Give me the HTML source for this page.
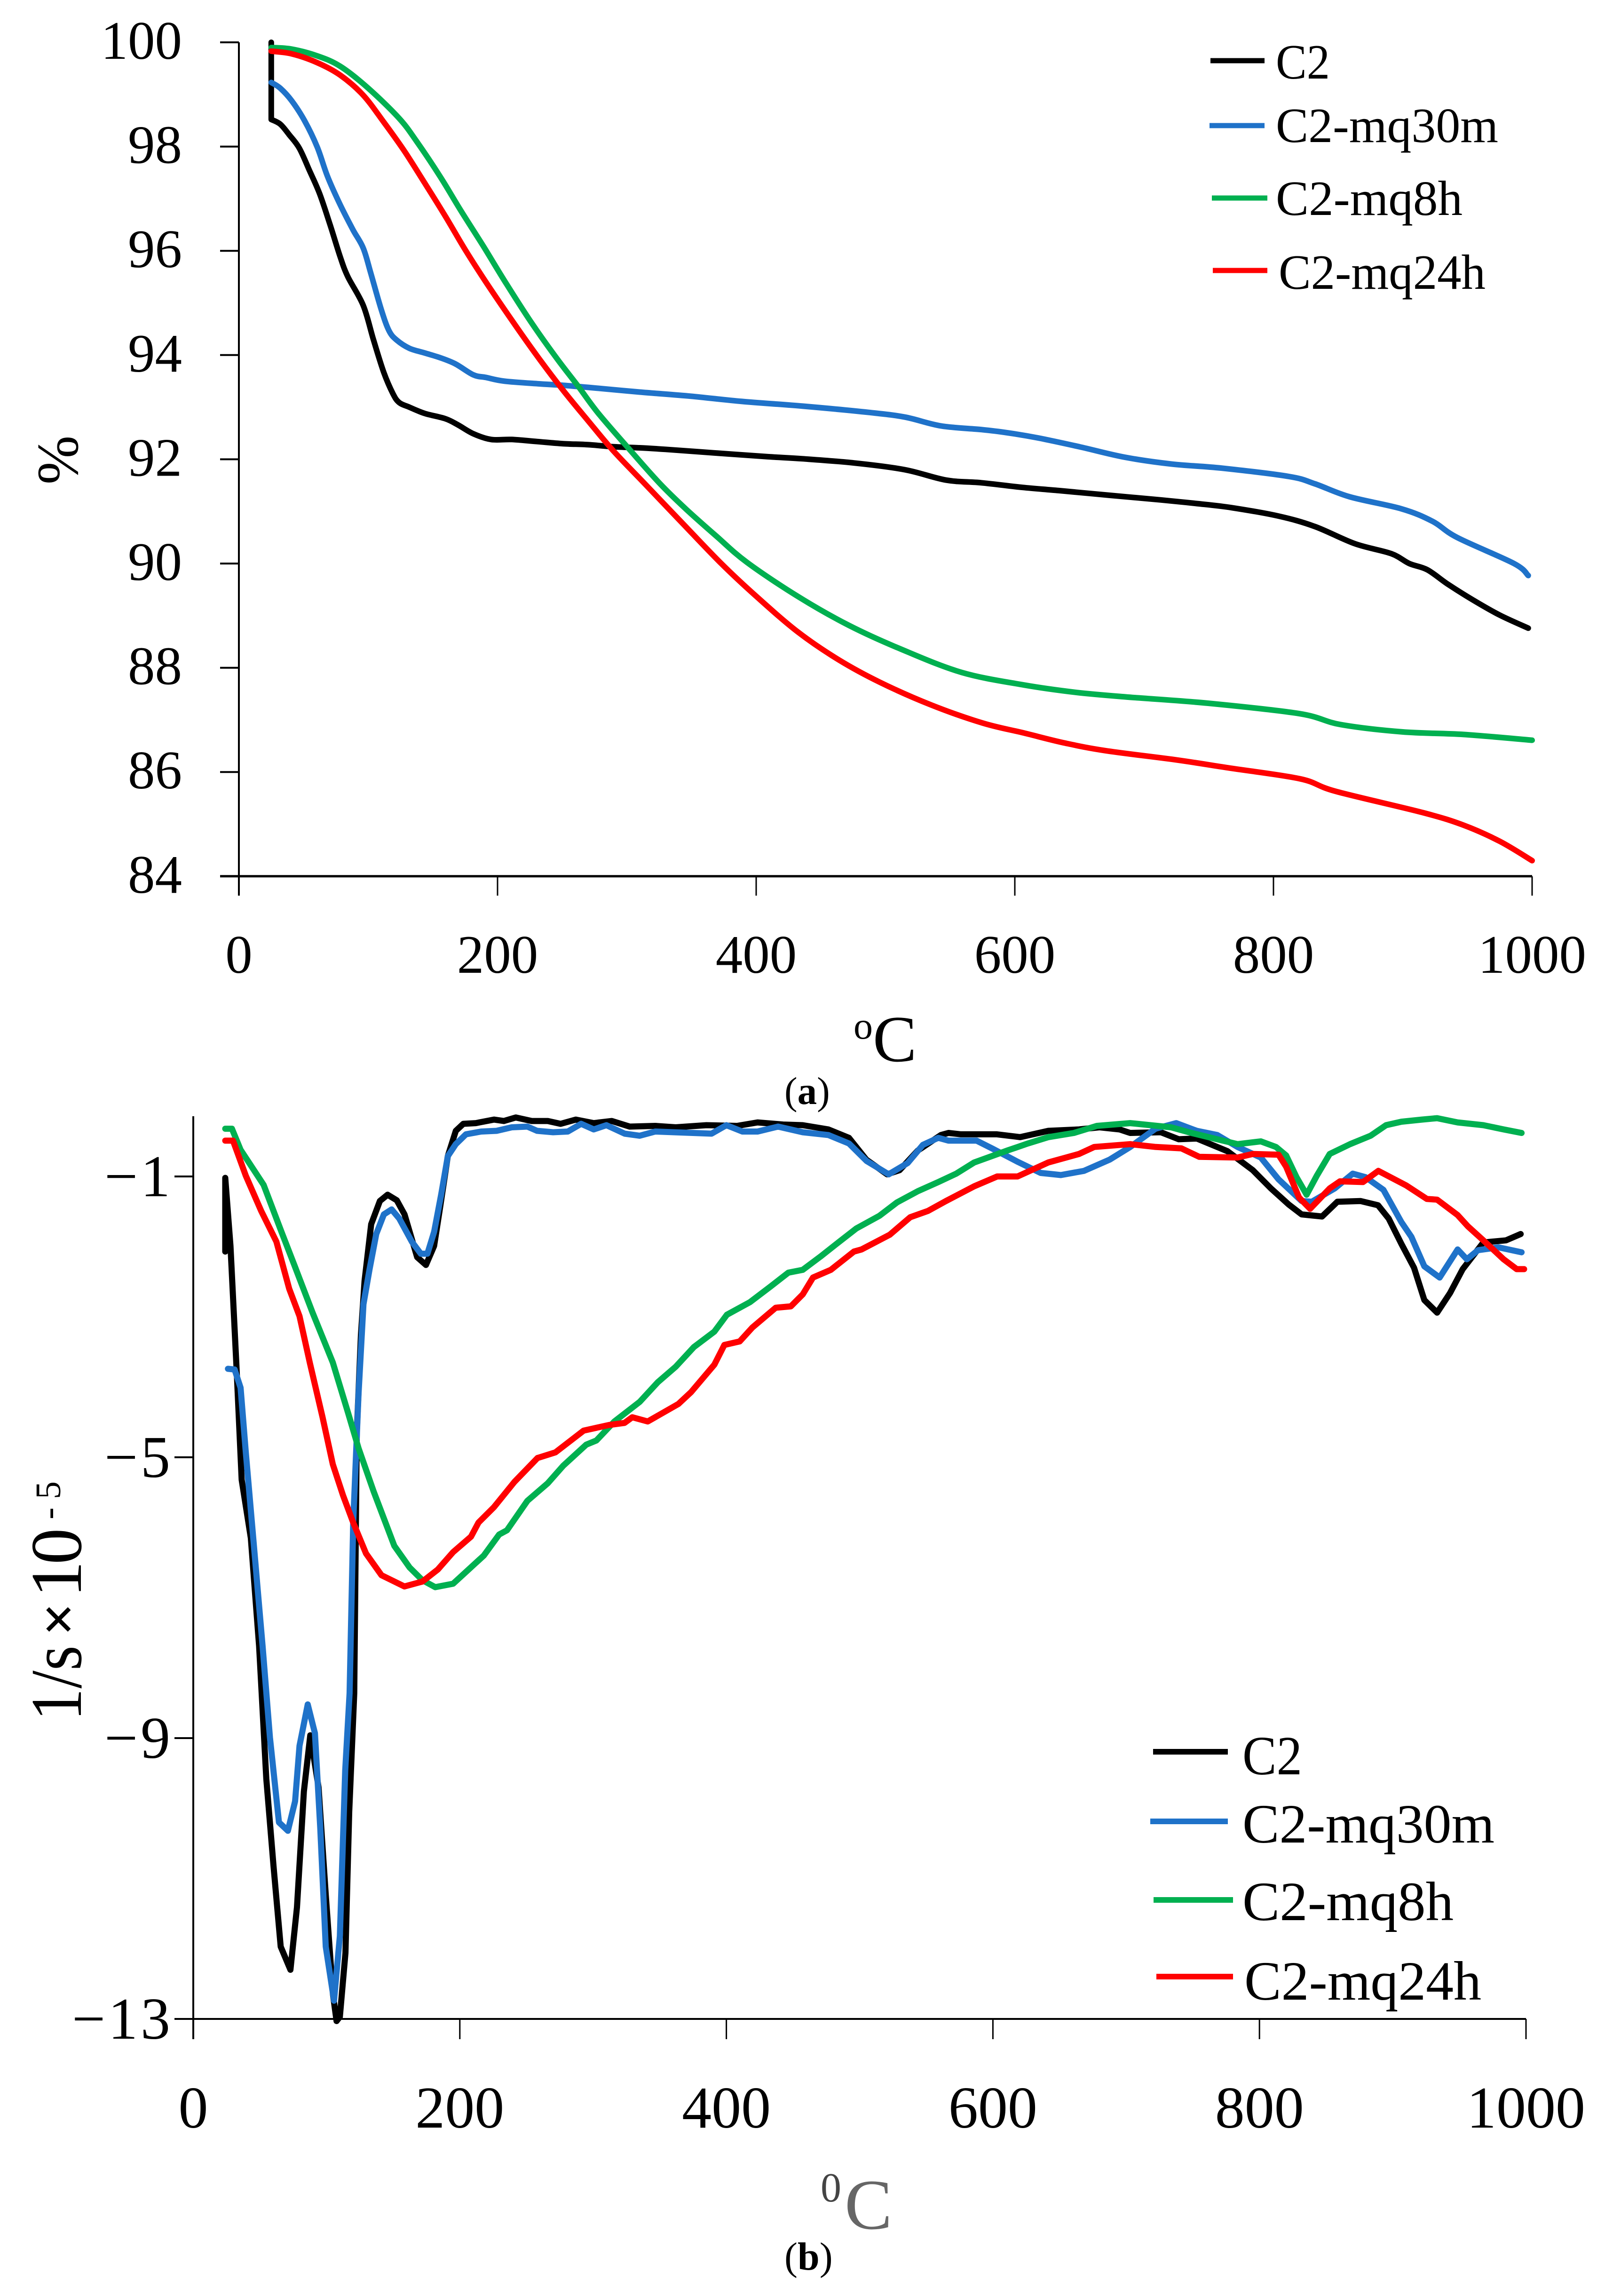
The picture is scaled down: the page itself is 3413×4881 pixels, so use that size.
<!DOCTYPE html>
<html lang="en">
<head>
<meta charset="utf-8">
<title>Thermogravimetric curves</title>
<style>
html,body{margin:0;padding:0;background:#fff;}
svg{display:block;}
text{font-family:"Liberation Serif",serif;fill:#000;}
</style>
</head>
<body>
<svg id="chart" xmlns="http://www.w3.org/2000/svg" width="3413" height="4881" viewBox="0 0 3413 4881">
  <rect x="0" y="0" width="3413" height="4881" fill="#fff"/>
  <g id="panelA"></g>
  <g id="panelB"></g>

  <text transform="translate(165,1030) rotate(-90)" font-size="125">%</text>
  <text x="1815" y="2208" font-size="82">o</text>
  <text x="1856" y="2256" font-size="140">C</text>
  <text x="1668" y="2347" font-size="83">(<tspan font-weight="bold">a</tspan>)</text>

  <g>
    <line x1="2574" x2="2689" y1="129" y2="129" stroke="#000" stroke-width="11"/>
    <text x="2713" y="167" font-size="105" textLength="115" lengthAdjust="spacingAndGlyphs">C2</text>
    <line x1="2572" x2="2689" y1="267" y2="267" stroke="#1f72c9" stroke-width="11"/>
    <text x="2713" y="302" font-size="105" textLength="473" lengthAdjust="spacingAndGlyphs">C2-mq30m</text>
    <line x1="2577" x2="2695" y1="421" y2="421" stroke="#00b050" stroke-width="11"/>
    <text x="2713" y="457" font-size="105" textLength="397" lengthAdjust="spacingAndGlyphs">C2-mq8h</text>
    <line x1="2579" x2="2695" y1="575" y2="575" stroke="#ff0000" stroke-width="11"/>
    <text x="2719" y="614" font-size="105" textLength="440" lengthAdjust="spacingAndGlyphs">C2-mq24h</text>
  </g>

  <g transform="translate(172,3658) rotate(-90)">
    <text x="0" y="0" font-size="155" textLength="160" lengthAdjust="spacingAndGlyphs">1/s</text>
    <text x="180" y="-6" font-size="125" font-weight="bold">×</text>
    <text x="262" y="0" font-size="155">1</text>
    <text x="332" y="0" font-size="155">0</text>
    <text x="428" y="-44" font-size="76">-</text>
    <text x="471" y="-44" font-size="76">5</text>
  </g>
  <text x="1745" y="4680" font-size="88" style="fill:#444">0</text>
  <text x="1796" y="4738" font-size="152" style="fill:#666">C</text>
  <text x="1668" y="4825" font-size="84">(<tspan font-weight="bold">b</tspan>)</text>

  <g>
    <line x1="2452" x2="2611" y1="3724" y2="3724" stroke="#000" stroke-width="12"/>
    <text x="2642" y="3772" font-size="118" textLength="127" lengthAdjust="spacingAndGlyphs">C2</text>
    <line x1="2446" x2="2611" y1="3872" y2="3872" stroke="#1f72c9" stroke-width="12"/>
    <text x="2642" y="3917" font-size="118" textLength="536" lengthAdjust="spacingAndGlyphs">C2-mq30m</text>
    <line x1="2453" x2="2622" y1="4039" y2="4039" stroke="#00b050" stroke-width="12"/>
    <text x="2642" y="4082" font-size="118" textLength="449" lengthAdjust="spacingAndGlyphs">C2-mq8h</text>
    <line x1="2459" x2="2622" y1="4202" y2="4202" stroke="#ff0000" stroke-width="12"/>
    <text x="2646" y="4251" font-size="118" textLength="504" lengthAdjust="spacingAndGlyphs">C2-mq24h</text>
  </g>
</svg>

<script>
// Panel (a) — tick labels
var aXTicks = [0, 200, 400, 600, 800, 1000];
var aYTicks = [100, 98, 96, 94, 92, 90, 88, 86, 84];

// Panel (a) — C2 mass loss
var aC2Temp = [25,25,32,38.8,46.7,54.6,62.5,70.5,78.4,84.3,96.2,104.1,112,119.1,123.9,131.8,143.7,159.5,169.4,181.3,195.1,211,230.7,250.5,270.3,290,310,330,369,409,436,475.6,515,547,574,606,634,673,713,741,768,804,832,863,891,905,919,935,955,975,997];
var aC2Pct = [100,98.52,98.43,98.23,97.97,97.54,97.09,96.5,95.88,95.5,94.95,94.29,93.67,93.26,93.09,93,92.88,92.78,92.66,92.49,92.38,92.38,92.34,92.3,92.28,92.24,92.22,92.19,92.12,92.05,92.01,91.93,91.8,91.6,91.55,91.46,91.4,91.31,91.22,91.15,91.07,90.91,90.71,90.38,90.19,90.0,89.88,89.6,89.29,89.01,88.76];

// Panel (a) — C2-mq30m mass loss
var aM30Temp = [25,32,40.8,50.7,60.6,68.5,78.4,88.3,96.2,102,110,116,121.9,131.8,143.7,155.5,167.4,181.3,191,205,230.7,250.5,270,310,349.5,389,436,487,515,543,574,594,618,650,685,721,760,812,832,859,899,923,942,986,997];
var aM30Pct = [99.23,99.12,98.88,98.5,97.99,97.43,96.88,96.4,96.05,95.57,94.88,94.47,94.29,94.13,94.04,93.95,93.83,93.62,93.57,93.5,93.45,93.42,93.38,93.29,93.21,93.11,93.02,92.9,92.81,92.64,92.57,92.51,92.41,92.24,92.04,91.91,91.83,91.67,91.53,91.28,91.05,90.81,90.5,90,89.77];

// Panel (a) — C2-mq8h mass loss
var aM8Temp = [25,40.8,60.6,78.4,100,124,137.7,155.5,171.4,189,207,226.8,246.6,262.4,278,302,325.7,345.5,369,393,432.8,472,511.7,559,607,646.5,686,749,820,852,899.6,947,1000];
var aM8Pct = [99.9,99.87,99.74,99.54,99.12,98.54,98.09,97.43,96.78,96.09,95.36,94.6,93.91,93.4,92.88,92.19,91.53,91.05,90.53,90.02,89.36,88.81,88.36,87.91,87.67,87.53,87.44,87.32,87.12,86.91,86.77,86.72,86.61];

// Panel (a) — C2-mq24h mass loss
var aM24Temp = [25,40.8,60.6,78.4,96,112,127.8,143.7,159.5,175,191,211,230.7,250.5,270,290,313.9,341.6,373,401,432.6,464,495.8,535,575,606.8,638,670,725.5,765,820.5,848,915.6,947,975,1000];
var aM24Pct = [99.83,99.78,99.61,99.37,98.99,98.47,97.92,97.3,96.67,96.02,95.4,94.67,93.98,93.33,92.74,92.15,91.53,90.81,90,89.35,88.68,88.15,87.72,87.29,86.94,86.75,86.56,86.41,86.23,86.08,85.87,85.63,85.22,84.98,84.67,84.3];

// Panel (b) — tick labels
var bXTicks = [0, 200, 400, 600, 800, 1000];
var bYTicks = [-1, -5, -9, -13];

// Panel (b) — C2 derivative
var bC2Temp = [24,24,27.9,32.5,36.3,43.2,49.4,54.8,60.2,65.6,72.9,77.8,83,87.8,94,99.4,104.8,107.5,110,114.2,117,120.8,122.7,125.8,128.5,133.5,140,145.8,152.7,158.5,168,174.6,180.7,185.3,191,197,202.6,212,225.6,233,242,254,266,275.6,287,300.5,314,327.5,346.6,362,385,408,423.4,442.6,457.3,476.5,492,505,520.6,530,543.7,561,566.7,576,603,620.5,641.6,664.6,680,695,703,726,739.5,753,764.4,776,795,808.6,822,831.6,847,858.5,875.8,889,897,906.5,916,923.7,933.3,943,952.5,968,985,996];
var bC2Rate = [-2.07,-1.02,-1.99,-3.74,-5.32,-6.15,-7.69,-9.58,-10.82,-11.97,-12.3,-11.41,-9.76,-8.96,-9.7,-11.23,-12.65,-13.03,-12.97,-12.06,-10.05,-8.36,-4.65,-3.26,-2.49,-1.68,-1.35,-1.26,-1.34,-1.54,-2.15,-2.26,-1.99,-1.43,-0.71,-0.35,-0.25,-0.24,-0.19,-0.21,-0.16,-0.21,-0.21,-0.25,-0.19,-0.24,-0.21,-0.29,-0.28,-0.3,-0.27,-0.28,-0.23,-0.26,-0.27,-0.33,-0.45,-0.76,-0.97,-0.91,-0.63,-0.41,-0.38,-0.4,-0.4,-0.44,-0.35,-0.33,-0.3,-0.33,-0.38,-0.37,-0.47,-0.46,-0.55,-0.64,-0.91,-1.17,-1.4,-1.54,-1.57,-1.36,-1.35,-1.41,-1.6,-1.96,-2.3,-2.76,-2.94,-2.66,-2.32,-1.94,-1.91,-1.82];

// Panel (b) — C2-mq30m derivative
var bM30Temp = [26,31,35.5,39.4,45,52,57.5,64.3,71,76.4,79.7,85.9,91.3,95.3,99.4,105.6,110,114,117.3,120,124,127.7,132.3,137.3,143,148.8,154.6,164,170.7,175.7,180.7,186,191,197,204.6,216,227.6,239,250.7,258,270,281,291,300.5,310,323.7,335,346.6,388.9,400,412,423.4,438.8,457.3,476.5,492,505.3,521.8,536,547.5,559,566.7,587.8,599.3,618.5,635.8,651,668.4,687.6,703,722,737.5,753,768.3,783.6,801,814.3,831.6,839.3,856.5,870,879.6,893,906.5,914,923.7,935.2,948.7,955.6,964,979.4,996.7];
var bM30Rate = [-3.74,-3.75,-4.01,-4.93,-6.15,-7.69,-8.99,-10.2,-10.32,-9.9,-9.11,-8.52,-8.93,-10.29,-11.97,-12.74,-11.82,-9.46,-8.36,-5.93,-4.1,-2.82,-2.32,-1.82,-1.54,-1.47,-1.6,-1.93,-2.1,-2.1,-1.79,-1.26,-0.71,-0.54,-0.4,-0.36,-0.35,-0.3,-0.29,-0.35,-0.37,-0.36,-0.25,-0.33,-0.27,-0.39,-0.42,-0.36,-0.39,-0.27,-0.36,-0.36,-0.29,-0.37,-0.41,-0.53,-0.78,-0.97,-0.81,-0.55,-0.45,-0.49,-0.49,-0.6,-0.79,-0.95,-0.98,-0.92,-0.76,-0.58,-0.32,-0.24,-0.35,-0.41,-0.58,-0.73,-1.04,-1.35,-1.36,-1.17,-0.96,-1.01,-1.19,-1.65,-1.86,-2.28,-2.44,-2.04,-2.18,-2.05,-2.01,-2.08];

// Panel (b) — C2-mq8h derivative
var bM8Temp = [24,29,35.5,52.8,66.2,75.8,89.3,104.7,116.2,124,135.4,150.8,162.3,171.9,181.5,195,206.5,218,229.5,235.4,250.7,266,277.6,294.9,302.5,316,335,348.6,362,375.6,391,400.4,417.7,433,446.5,457.3,470.7,482,497.6,514.9,528,543.7,559,572.5,586,610.9,626.2,641.6,660.8,678,703,733.7,749,768.3,783.6,801,812.4,820,827.8,835.4,843,852.7,868,883.4,895,906.5,921.8,933.3,948.7,968,983.2,996.7];
var bM8Rate = [-0.32,-0.32,-0.62,-1.12,-1.79,-2.26,-2.93,-3.65,-4.37,-4.87,-5.49,-6.26,-6.57,-6.75,-6.85,-6.8,-6.6,-6.4,-6.1,-6.04,-5.62,-5.37,-5.12,-4.82,-4.76,-4.49,-4.21,-3.93,-3.71,-3.43,-3.21,-2.97,-2.79,-2.57,-2.37,-2.33,-2.14,-1.97,-1.74,-1.56,-1.37,-1.21,-1.08,-0.96,-0.8,-0.63,-0.53,-0.44,-0.38,-0.28,-0.24,-0.3,-0.38,-0.47,-0.54,-0.5,-0.58,-0.7,-1.01,-1.26,-0.99,-0.68,-0.54,-0.42,-0.27,-0.22,-0.19,-0.17,-0.23,-0.27,-0.33,-0.38];

// Panel (b) — C2-mq24h derivative
var bM24Temp = [24,29.8,39.4,50.9,62.4,72,79.7,87.4,97,104.7,112.3,120,129.6,141.2,158.4,171.9,183.4,195,208.4,214,225.6,241,258.3,271.7,292.9,312,323.6,329.4,341,364,373.6,391,398.5,410,419.6,437,448.4,457.3,465,478.4,495.7,501.4,522.6,538,551.4,564.8,586,603.2,618.5,641.6,664.6,676,703,722.2,741.4,754.8,783.6,795,814.3,820,829.7,838,852.7,860.4,877.7,889.2,910.3,925.6,933.3,948.7,956.4,968,983.2,993,998.6];
var bM24Rate = [-0.49,-0.49,-0.99,-1.49,-1.93,-2.6,-2.99,-3.65,-4.43,-5.1,-5.54,-5.93,-6.37,-6.68,-6.84,-6.77,-6.6,-6.35,-6.13,-5.93,-5.71,-5.35,-5.01,-4.93,-4.62,-4.54,-4.51,-4.43,-4.49,-4.24,-4.07,-3.68,-3.4,-3.35,-3.15,-2.87,-2.85,-2.68,-2.44,-2.33,-2.07,-2.04,-1.83,-1.58,-1.49,-1.35,-1.14,-1,-1,-0.8,-0.68,-0.58,-0.54,-0.58,-0.6,-0.72,-0.73,-0.68,-0.69,-0.86,-1.3,-1.46,-1.17,-1.07,-1.08,-0.92,-1.13,-1.32,-1.33,-1.55,-1.71,-1.91,-2.18,-2.32,-2.32];

var SVGNS = 'http://www.w3.org/2000/svg';

function makeLine(parent, x1, y1, x2, y2, width) {
  var el = document.createElementNS(SVGNS, 'line');
  el.setAttribute('x1', x1);
  el.setAttribute('y1', y1);
  el.setAttribute('x2', x2);
  el.setAttribute('y2', y2);
  el.setAttribute('stroke', '#000');
  el.setAttribute('stroke-width', width);
  parent.appendChild(el);
  return el;
}

function makeText(parent, x, y, size, anchor, content) {
  var el = document.createElementNS(SVGNS, 'text');
  el.setAttribute('x', x);
  el.setAttribute('y', y);
  el.setAttribute('font-size', size);
  el.setAttribute('text-anchor', anchor);
  el.textContent = content;
  parent.appendChild(el);
  return el;
}

function stylePath(el, color, width) {
  el.setAttribute('fill', 'none');
  el.setAttribute('stroke', color);
  el.setAttribute('stroke-width', width);
  el.setAttribute('stroke-linejoin', 'round');
  el.setAttribute('stroke-linecap', 'round');
}

// Straight-segment curve (panel b: the source trace is visibly noisy)
function makeSeries(parent, temps, vals, sx, sy, color, width) {
  var pts = [];
  for (var i = 0; i < temps.length; i++) {
    pts.push(sx(temps[i]).toFixed(1) + ',' + sy(vals[i]).toFixed(1));
  }
  var el = document.createElementNS(SVGNS, 'polyline');
  el.setAttribute('points', pts.join(' '));
  stylePath(el, color, width);
  parent.appendChild(el);
  return el;
}

// Catmull-Rom smoothed curve (panel a: the source trace is smooth)
function makeSmoothSeries(parent, temps, vals, sx, sy, color, width) {
  var xs = temps.map(sx);
  var ys = vals.map(sy);
  var n = xs.length;
  var d = 'M' + xs[0].toFixed(1) + ' ' + ys[0].toFixed(1);
  for (var i = 0; i < n - 1; i++) {
    if (xs[i] === xs[i + 1]) {
      d += 'L' + xs[i + 1].toFixed(1) + ' ' + ys[i + 1].toFixed(1);
      continue;
    }
    var a = (i > 0 && xs[i - 1] !== xs[i]) ? i - 1 : i;
    var b = Math.min(i + 2, n - 1);
    var c1x = xs[i] + (xs[i + 1] - xs[a]) / 6;
    var c1y = ys[i] + (ys[i + 1] - ys[a]) / 6;
    var c2x = xs[i + 1] - (xs[b] - xs[i]) / 6;
    var c2y = ys[i + 1] - (ys[b] - ys[i]) / 6;
    d += 'C' + c1x.toFixed(1) + ' ' + c1y.toFixed(1) + ' ' + c2x.toFixed(1) + ' ' + c2y.toFixed(1) + ' ' + xs[i + 1].toFixed(1) + ' ' + ys[i + 1].toFixed(1);
  }
  var el = document.createElementNS(SVGNS, 'path');
  el.setAttribute('d', d);
  stylePath(el, color, width);
  parent.appendChild(el);
  return el;
}

// ---------- Panel A ----------
var gA = document.getElementById('panelA');
function axScale(t) { return 508 + t * 2.75; }
function ayScale(v) { return 90 + (100 - v) * 110.8; }

var aYAxis = makeLine(gA, axScale(0), ayScale(100), axScale(0), 1904, 4);


var aXAxis = makeLine(gA, 468, ayScale(84), axScale(1000), ayScale(84), 5);



aYTicks.forEach(function (v) {
  var tick = makeLine(gA, 468, ayScale(v), axScale(0), ayScale(v), 4);
  
  
  var lab = makeText(gA, 387, ayScale(v) + 35, 115, 'end', String(v));
  
  
});
aXTicks.forEach(function (t) {
  var tick = makeLine(gA, axScale(t), ayScale(84), axScale(t), 1904, 3);
  
  
  var lab = makeText(gA, axScale(t), 2068, 115, 'middle', String(t));
  
  
});

var sa1 = makeSmoothSeries(gA, aC2Temp, aC2Pct, axScale, ayScale, '#000000', 12);


var sa2 = makeSmoothSeries(gA, aM30Temp, aM30Pct, axScale, ayScale, '#1f72c9', 12);


var sa3 = makeSmoothSeries(gA, aM8Temp, aM8Pct, axScale, ayScale, '#00b050', 12);


var sa4 = makeSmoothSeries(gA, aM24Temp, aM24Pct, axScale, ayScale, '#ff0000', 12);



// ---------- Panel B ----------
var gB = document.getElementById('panelB');
function bxScale(t) { return 411 + t * 2.834; }
function byScale(v) { return 2501 + (-1 - v) * 149.25; }

var bYAxis = makeLine(gB, bxScale(0), 2373, bxScale(0), 4335, 4);


var bXAxis = makeLine(gB, 371, byScale(-13), bxScale(1000), byScale(-13), 4);



bYTicks.forEach(function (v) {
  var tick = makeLine(gB, 371, byScale(v), bxScale(0), byScale(v), 4);
  
  
  var lab = makeText(gB, 368, byScale(v) + 42, 126, 'end', '\u2212' + Math.abs(v));
  lab.setAttribute('letter-spacing', '6');
  
  
});
bXTicks.forEach(function (t) {
  var tick = makeLine(gB, bxScale(t), byScale(-13), bxScale(t), 4335, 3);
  
  
  var lab = makeText(gB, bxScale(t), 4523, 126, 'middle', String(t));
  
  
});

var sb1 = makeSeries(gB, bC2Temp, bC2Rate, bxScale, byScale, '#000000', 13);


var sb2 = makeSeries(gB, bM30Temp, bM30Rate, bxScale, byScale, '#1f72c9', 13);


var sb3 = makeSeries(gB, bM8Temp, bM8Rate, bxScale, byScale, '#00b050', 13);


var sb4 = makeSeries(gB, bM24Temp, bM24Rate, bxScale, byScale, '#ff0000', 13);


</script>
</body>
</html>
